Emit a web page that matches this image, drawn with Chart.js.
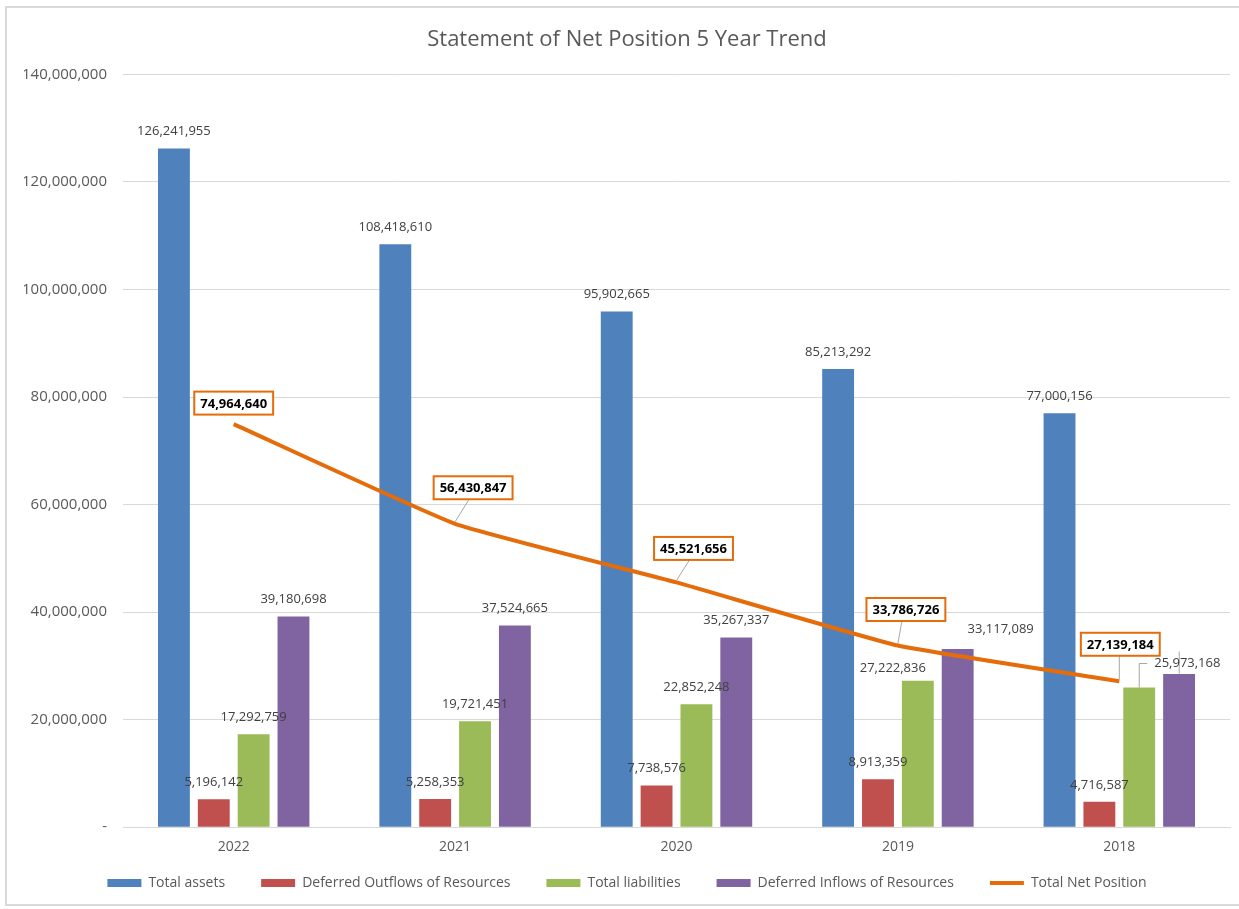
<!DOCTYPE html>
<html>
<head>
<meta charset="utf-8">
<script src="https://cdn.jsdelivr.net/npm/chart.js@4.4.1/dist/chart.umd.min.js"></script>
<style>
  html, body { margin: 0; padding: 0; background: #fff; overflow: hidden; width: 1239px; height: 909px; }
  #marco { position: absolute; left: 5px; top: 6px; width: 1260px; height: 900px; border: 2px solid #d9d9d9; box-sizing: border-box; }
  #lienzo { position: absolute; left: 0; top: 0; }
</style>
</head>
<body>
<div id="marco"></div>
<canvas id="lienzo" width="1239" height="909"></canvas>
<script>
// datos
const anios = ['2022', '2021', '2020', '2019', '2018'];
const activosTotales = [126241955, 108418610, 95902665, 85213292, 77000156];
const salidasDiferidas = [5196142, 5258353, 7738576, 8913359, 4716587];
const pasivosTotales = [17292759, 19721451, 22852248, 27222836, 25973168];
const entradasDiferidas = [39180698, 37524665, 35267337, 33117089, 28500000]; // 2018 sin etiqueta, estimado
const posicionNeta = [74964640, 56430847, 45521656, 33786726, 27139184];
const ticksEjeY = [0, 20000000, 40000000, 60000000, 80000000, 100000000, 120000000, 140000000];

const FUENTE = "'Open Sans', sans-serif";
const GRIS_TEXTO = '#595959';
const NARANJA = '#E46C0A';

function formatNum(n) {
    return n.toLocaleString('en-US');
}

// desplazamientos de etiquetas de barras [dataset-punto] = [dx, dy]
const ajusteEtiquetas = {
    '2-3': [-25, 4],
    '3-3': [43, -3]
};
// cajas de la linea: desplazamiento del centro respecto al punto
const ajusteCajas = [[0, -21], [18, -36], [17, -34], [8, -36], [1, -37]];

const etiquetasPlugin = {
    id: 'etiquetas',
    afterDatasetsDraw(chart) {
        const ctx = chart.ctx;
        ctx.save();
        ctx.font = '13px ' + FUENTE;
        ctx.fillStyle = '#404040';
        ctx.textAlign = 'center';
        ctx.textBaseline = 'middle';
        for (let d = 0; d < 4; d++) {
            const meta = chart.getDatasetMeta(d);
            meta.data.forEach((barra, i) => {
                const valor = chart.data.datasets[d].data[i];
                if (d == 3 && i == 4) return; // oculta en el original
                if (d == 2 && i == 4) {
                    // etiqueta con linea guia
                    ctx.strokeStyle = '#a6a6a6';
                    ctx.lineWidth = 1;
                    ctx.beginPath();
                    ctx.moveTo(barra.x, barra.y);
                    ctx.lineTo(barra.x, barra.y - 24);
                    ctx.lineTo(barra.x + 8, barra.y - 24);
                    ctx.stroke();
                    ctx.beginPath();
                    ctx.moveTo(barra.x + 40, barra.y - 14);
                    ctx.lineTo(barra.x + 40, barra.y - 36);
                    ctx.stroke();
                    ctx.textAlign = 'left';
                    ctx.fillText(formatNum(valor), barra.x + 15, barra.y - 24);
                    ctx.textAlign = 'center';
                    return;
                }
                const aj = ajusteEtiquetas[d + '-' + i] || [0, 0];
                ctx.fillText(formatNum(valor), barra.x + aj[0], barra.y - 17 + aj[1]);
            });
        }
        // cajas de la posicion neta
        const metaLinea = chart.getDatasetMeta(4);
        ctx.font = 'bold 13px ' + FUENTE;
        metaLinea.data.forEach((p, i) => {
            const texto = formatNum(posicionNeta[i]);
            const ancho = ctx.measureText(texto).width + 12;
            const alto = 23;
            const cx = p.x + ajusteCajas[i][0];
            const cy = p.y + ajusteCajas[i][1];
            if (i > 0) {
                ctx.strokeStyle = '#a6a6a6';
                ctx.lineWidth = 1;
                ctx.beginPath();
                ctx.moveTo(cx - (i == 4 ? 1 : 4), cy + alto / 2);
                ctx.lineTo(p.x, p.y - 2);
                ctx.stroke();
            }
            ctx.fillStyle = '#ffffff';
            ctx.fillRect(cx - ancho / 2, cy - alto / 2, ancho, alto);
            ctx.strokeStyle = NARANJA;
            ctx.lineWidth = 2;
            ctx.strokeRect(cx - ancho / 2, cy - alto / 2, ancho, alto);
            ctx.fillStyle = '#000000';
            ctx.fillText(texto, cx, cy + 1);
        });
        ctx.restore();
    }
};

// la leyenda ocupa menos alto y se coloca mas arriba
const leyendaPlugin = {
    id: 'ajusteLeyenda',
    afterInit(chart) {
        const leyenda = chart.legend;
        const fitOrig = leyenda.fit;
        leyenda.fit = function () {
            fitOrig.call(this);
            this.height = this.height - 31;
        };
    },
    afterLayout(chart) {
        const leyenda = chart.legend;
        leyenda.top = 840;
        leyenda.bottom = 909;
        leyenda.height = 69;
    }
};

const ctx = document.getElementById('lienzo').getContext('2d');
const chart = new Chart(ctx, {
    type: 'bar',
    data: {
        labels: anios,
        datasets: [
            { label: 'Total assets', data: activosTotales, backgroundColor: '#4F81BD', pointStyle: 'rect', order: 2 },
            { label: 'Deferred Outflows of Resources', data: salidasDiferidas, backgroundColor: '#C0504D', pointStyle: 'rect', order: 2 },
            { label: 'Total liabilities', data: pasivosTotales, backgroundColor: '#9BBB59', pointStyle: 'rect', order: 2 },
            { label: 'Deferred Inflows of Resources', data: entradasDiferidas, backgroundColor: '#8064A2', pointStyle: 'rect', order: 2 },
            {
                type: 'line', label: 'Total Net Position', data: posicionNeta,
                borderColor: NARANJA, backgroundColor: NARANJA, borderWidth: 4,
                pointRadius: 0, pointStyle: 'line', tension: 0.12, order: 1
            }
        ]
    },
    options: {
        responsive: false,
        animation: false,
        layout: { padding: { left: 24, right: 9, top: 27, bottom: 14 } },
        datasets: {
            bar: { categoryPercentage: 0.72, barPercentage: 0.8 }
        },
        scales: {
            x: {
                grid: { display: false, drawTicks: false },
                border: { display: true, color: '#d9d9d9', width: 1 },
                ticks: { color: GRIS_TEXTO, font: { family: FUENTE, size: 14 }, padding: 11 }
            },
            y: {
                min: 0,
                max: 140000000,
                afterBuildTicks(axis) {
                    axis.ticks = ticksEjeY.map(v => ({ value: v }));
                },
                afterFit(axis) {
                    axis.width = 99;
                },
                grid: { color: '#d9d9d9', drawTicks: false },
                border: { display: false },
                ticks: {
                    color: GRIS_TEXTO,
                    font: { family: FUENTE, size: 15 },
                    padding: 16,
                    callback: v => v == 0 ? '-' : formatNum(v)
                }
            }
        },
        plugins: {
            title: {
                display: true,
                text: 'Statement of Net Position 5 Year Trend',
                color: GRIS_TEXTO,
                font: { family: FUENTE, size: 22, weight: 'normal' },
                padding: { top: 0, bottom: 21 }
            },
            legend: {
                position: 'bottom',
                labels: {
                    usePointStyle: true,
                    pointStyleWidth: 34,
                    boxHeight: 8,
                    padding: 36,
                    color: GRIS_TEXTO,
                    font: { family: FUENTE, size: 14 },
                    sort: (a, b) => a.datasetIndex - b.datasetIndex
                }
            },
            tooltip: { enabled: false }
        }
    },
    plugins: [etiquetasPlugin, leyendaPlugin]
});
</script>
</body>
</html>
